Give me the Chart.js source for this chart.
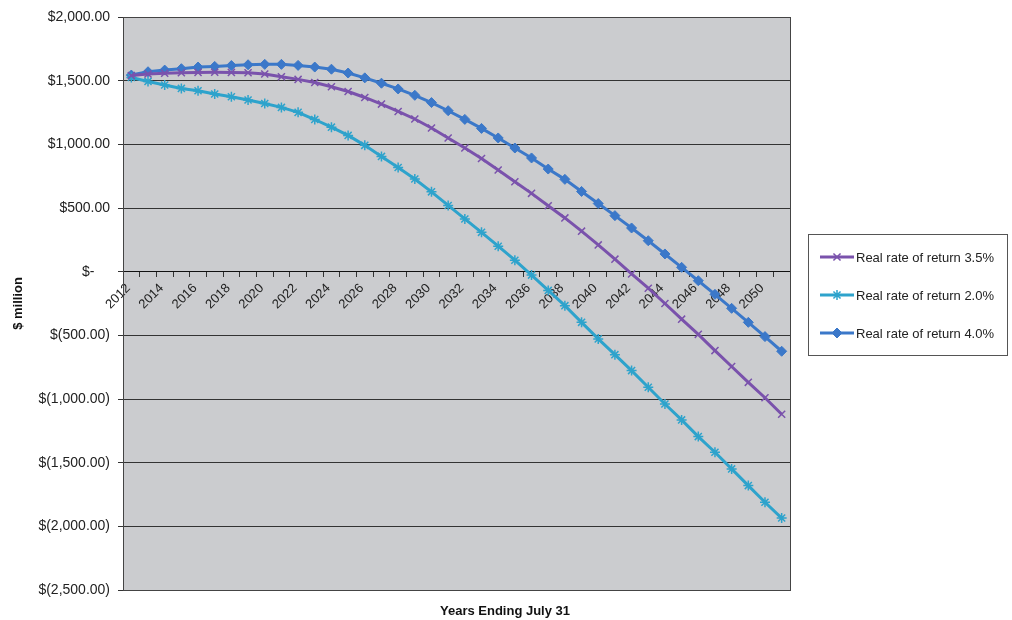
<!DOCTYPE html>
<html>
<head>
<meta charset="utf-8">
<script src="https://cdn.jsdelivr.net/npm/chart.js"></script>
<style>
  html, body { margin: 0; padding: 0; background: #fff; }
  #wrap { width: 1012px; height: 620px; }
</style>
</head>
<body>
<div id="wrap"><canvas id="chart" width="1012" height="620"></canvas></div>
<script>
// Years ending July 31, 2012 - 2051
const years = [];
for (let y = 2012; y <= 2051; y++) years.push(String(y));

// $ million
const rate35 = [1540, 1552, 1558, 1562, 1565, 1566, 1565, 1562, 1552, 1531,
  1510, 1486, 1452, 1415, 1368, 1316, 1258, 1199, 1128, 1050,
  971, 889, 798, 706, 615, 518, 422, 318, 210, 98,
  -18, -130, -250, -373, -492, -620, -745, -869, -990, -1120];
const rate20 = [1525, 1494, 1466, 1439, 1421, 1395, 1374, 1348, 1321, 1290,
  1251, 1195, 1135, 1070, 992, 905, 818, 728, 627, 520,
  414, 309, 200, 90, -27, -147, -267, -398, -528, -652,
  -777, -908, -1039, -1164, -1295, -1418, -1549, -1680, -1811, -1935];
const rate40 = [1544, 1570, 1583, 1594, 1607, 1612, 1619, 1625, 1628, 1628,
  1620, 1607, 1590, 1560, 1522, 1480, 1435, 1385, 1328, 1264,
  1196, 1125, 1050, 971, 893, 806, 725, 630, 535, 440,
  343, 243, 139, 34, -71, -178, -288, -398, -510, -625];

const seriesNames = ["Real rate of return 3.5%", "Real rate of return 2.0%", "Real rate of return 4.0%"];
const seriesColors = ["#7a52ac", "#2ea3cc", "#3b78c9"];

const yMin = -2500, yMax = 2000, yStep = 500;

const xTitle = "Years Ending July 31";
const FONT = "'Liberation Sans', Arial, sans-serif";

function money(v) {
  if (v === 0) return "$-    ";
  const s = Math.abs(v).toLocaleString("en-US", { minimumFractionDigits: 2, maximumFractionDigits: 2 });
  return v < 0 ? "$(" + s + ")" : "$" + s;
}

// gray plot area with a border
const plotBackground = {
  id: "plotBackground",
  beforeDraw(chart) {
    const { ctx, chartArea: a } = chart;
    ctx.save();
    ctx.fillStyle = "#cbcccf";
    ctx.fillRect(a.left, a.top, a.right - a.left, a.bottom - a.top);
    ctx.restore();
  },
  afterDatasetsDraw(chart) {
    const { ctx, chartArea: a } = chart;
    ctx.save();
    ctx.strokeStyle = "#444";
    ctx.lineWidth = 1;
    ctx.strokeRect(Math.round(a.left) + 0.5, Math.round(a.top) + 0.5,
      Math.round(a.right - a.left), Math.round(a.bottom - a.top));
    ctx.restore();
  }
};

// x axis title, centred on the whole picture like the Excel original
const bottomTitle = {
  id: "bottomTitle",
  afterDraw(chart) {
    const { ctx } = chart;
    ctx.save();
    ctx.fillStyle = "#111";
    ctx.font = "bold 13px " + FONT;
    ctx.textAlign = "center";
    ctx.textBaseline = "middle";
    ctx.fillText(xTitle, 505, 611);
    ctx.restore();
  }
};

// Excel style legend: line with the marker in its middle, boxed
const boxLegend = {
  id: "boxLegend",
  afterDraw(chart) {
    const { ctx } = chart;
    const left = 808, top = 234, w = 199, h = 121;
    ctx.save();
    ctx.strokeStyle = "#555";
    ctx.lineWidth = 1;
    ctx.strokeRect(left + 0.5, top + 0.5, w, h);
    chart.data.datasets.forEach((ds, i) => {
      const y = 257 + i * 38;
      ctx.strokeStyle = ds.borderColor;
      ctx.lineWidth = 3;
      ctx.beginPath();
      ctx.moveTo(820, y);
      ctx.lineTo(854, y);
      ctx.stroke();
      ctx.fillStyle = ds.pointBackgroundColor;
      ctx.strokeStyle = ds.pointBorderColor;
      ctx.lineWidth = ds.pointBorderWidth;
      Chart.helpers.drawPoint(ctx, { pointStyle: ds.pointStyle, radius: ds.pointRadius, rotation: 0, borderWidth: ds.pointBorderWidth }, 837, y);
      ctx.fillStyle = "#222";
      ctx.font = "13px " + FONT;
      ctx.textAlign = "left";
      ctx.textBaseline = "middle";
      ctx.fillText(ds.label, 856, y + 1);
    });
    ctx.restore();
  }
};

const styles = [
  { pointStyle: "crossRot", pointRadius: 5, pointBorderWidth: 1.5 },
  { pointStyle: "star", pointRadius: 5, pointBorderWidth: 1.5 },
  { pointStyle: "rectRot", pointRadius: 5, pointBorderWidth: 1 }
];
const values = [rate35, rate20, rate40];

const datasets = values.map((data, i) => ({
  label: seriesNames[i],
  data: data,
  borderColor: seriesColors[i],
  backgroundColor: seriesColors[i],
  pointBackgroundColor: seriesColors[i],
  pointBorderColor: seriesColors[i],
  borderWidth: 3,
  tension: 0,
  ...styles[i]
}));

new Chart(document.getElementById("chart"), {
  type: "line",
  data: { labels: years, datasets: datasets },
  plugins: [plotBackground, bottomTitle, boxLegend],
  options: {
    responsive: false,
    animation: false,
    devicePixelRatio: 1,
    layout: { padding: { top: 17, right: 222, bottom: 30, left: 0 } },
    plugins: {
      legend: { display: false },
      tooltip: { enabled: false },
      title: { display: false }
    },
    scales: {
      x: {
        type: "category",
        position: { y: 0 },
        offset: true,
        afterFit(scale) { scale.height = 0; },
        grid: { display: true, drawOnChartArea: false, offset: true, tickLength: 5, color: "#333" },
        border: { display: true, color: "#111", width: 1 },
        ticks: {
          autoSkip: false,
          minRotation: 45,
          maxRotation: 45,
          padding: 4,
          labelOffset: -3,
          color: "#222",
          font: { family: FONT, size: 13 },
          callback(value, index) { return index % 2 === 0 ? this.getLabelForValue(value) : ""; }
        }
      },
      y: {
        min: yMin,
        max: yMax,
        afterFit(scale) { scale.width = 123; },
        grid: { color: "#333", lineWidth: 1, tickLength: 5 },
        border: { display: true, color: "#444" },
        ticks: {
          stepSize: yStep,
          padding: 8,
          color: "#222",
          font: { family: FONT, size: 14 },
          callback: (v) => money(v)
        },
        title: {
          display: true,
          text: "$ million",
          color: "#111",
          font: { family: FONT, size: 13, weight: "bold" },
          padding: { top: 11, bottom: 0 }
        }
      }
    }
  }
});
</script>
</body>
</html>
